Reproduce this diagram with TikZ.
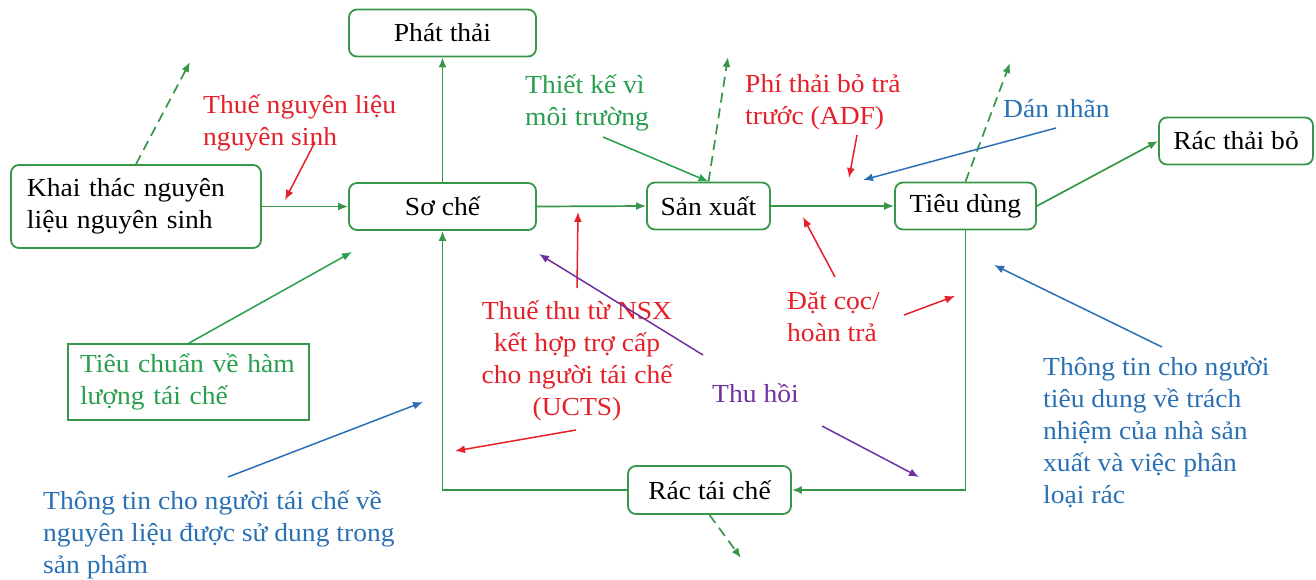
\documentclass[tikz,border=0pt]{standalone}
\usepackage{fontspec}
\setmainfont{Liberation Serif}[FakeStretch=1.06]
\usetikzlibrary{arrows.meta}

\definecolor{boxgreen}{RGB}{56,150,72}
\definecolor{lblgreen}{RGB}{40,158,78}
\definecolor{lblred}{RGB}{228,32,40}
\definecolor{lblblue}{RGB}{42,112,180}
\definecolor{lblpurple}{RGB}{112,48,160}

\begin{document}
\begin{tikzpicture}[x=1pt, y=-1pt,
  every node/.style={font=\fontsize{26}{32}\selectfont},
  stage/.style={draw=boxgreen, line width=1.8pt, rounded corners=8pt,
    fill=white, inner sep=0pt, text=black},
  tip/.style={-{Latex[length=10pt,width=8pt]}},
  flow/.style={tip, draw=boxgreen, line width=1.7pt},
  leak/.style={flow, dashed, dash pattern=on 10pt off 6pt},
  redarrow/.style={tip, draw=lblred, line width=1.5pt},
  bluearrow/.style={tip, draw=lblblue, line width=1.5pt},
  purplearrow/.style={tip, draw=lblpurple, line width=1.5pt},
  greenarrow/.style={tip, draw=lblgreen, line width=1.5pt},
  % multi-line labels are placed by the baseline of their last line
  lbl/.style={inner sep=0pt, anchor=base west, align=left},
]
\useasboundingbox (0,0) rectangle (1316,579);

% stages of the material chain
\node[stage, minimum width=187pt, minimum height=47pt] (phat) at (442.5,33) {Phát thải};
\node[stage, minimum width=250pt, minimum height=83pt, text width=218pt,
  inner xsep=16pt, align=left] (khai) at (136,206.5) {Khai thác nguyên\\liệu nguyên sinh};
\node[stage, minimum width=187pt, minimum height=47pt] (soche) at (442.5,206.5) {Sơ chế};
\node[stage, minimum width=123pt, minimum height=47pt] (sanxuat) at (708.5,206) {Sản xuất};
\node[stage, minimum width=141pt, minimum height=47pt] (tieudung) at (965.5,206) {Tiêu dùng};
\node[stage, minimum width=154pt, minimum height=47pt] (racthai) at (1236,141) {Rác thải bỏ};
\node[stage, minimum width=163pt, minimum height=48pt] (ractaiche) at (709.5,490) {Rác tái chế};
\node[draw=boxgreen, line width=1.2pt, minimum width=241pt, minimum height=76pt,
  text width=217pt, inner xsep=12pt, inner ysep=0pt, align=left, text=lblgreen]
  (tieuchuan) at (188.5,382) {Tiêu chuẩn về hàm\\lượng tái chế};

% policy labels
\node[lbl, text=lblred] (tnl) at (203,145) {Thuế nguyên liệu\\nguyên sinh};
\node[lbl, text=lblgreen] (tk) at (525,125) {Thiết kế vì\\môi trường};
\node[lbl, text=lblred] (adf) at (745,124) {Phí thải bỏ trả\\trước (ADF)};
\node[lbl, text=lblblue] (dan) at (1003,117) {Dán nhãn};
\node[inner sep=0pt, anchor=base, align=center, text=lblred] (ucts) at (577,415)
  {Thuế thu từ NSX\\kết hợp trợ cấp\\cho người tái chế\\(UCTS)};
\node[lbl, text=lblred] (datcoc) at (787,341) {Đặt cọc/\\hoàn trả};
\node[lbl, text=lblpurple] (thuhoi) at (712,402) {Thu hồi};
\node[lbl, text=lblblue] (ttntd) at (1043,503)
  {Thông tin cho người\\tiêu dung về trách\\nhiệm của nhà sản\\xuất và việc phân\\loại rác};
\node[lbl, text=lblblue] (ttntc) at (43,573)
  {Thông tin cho người tái chế về\\nguyên liệu được sử dung trong\\sản phẩm};

% material flows
\draw[flow] (khai.east |- soche) -- (soche.west);
\draw[flow] (soche.east) -- (sanxuat.west);
\draw[flow] (sanxuat.east) -- (tieudung.west);
\draw[flow] (soche.north) -- (phat.south);
\draw[flow] (tieudung.east) -- (racthai.west);
\draw[flow] (tieudung.south) |- (ractaiche.east);
\draw[flow] (ractaiche.west) -| (soche.south);

% leakage (dashed)
\coordinate (khaileak) at (190,62);
\coordinate (sxleak) at (728,57);
\coordinate (tdleak) at (1010,63);
\coordinate (rtcleak) at (741,558);
\draw[leak] (khai.north) -- (khaileak);
\draw[leak] (sanxuat.north) -- (sxleak);
\draw[leak] (tieudung.north) -- (tdleak);
\draw[leak] (ractaiche.south) -- (rtcleak);

% instrument arrows
\coordinate (tkfrom) at (603,137);
\draw[greenarrow] (tkfrom) -- (sanxuat.north);
\coordinate (tcto) at (352,252);
\draw[greenarrow] (tieuchuan.north) -- (tcto);

\coordinate (tnlfrom) at (315,142);
\coordinate (tnlto) at (285,200);
\draw[redarrow] (tnlfrom) -- (tnlto);

\coordinate (adffrom) at (857,135);
\coordinate (adfto) at (849,178);
\draw[redarrow] (adffrom) -- (adfto);

\coordinate (danfrom) at (1056,128);
\coordinate (danto) at (863,180);
\draw[bluearrow] (danfrom) -- (danto);

\coordinate (uctsup) at (577,288);
\coordinate (uctsupto) at (578,212);
\draw[redarrow] (uctsup) -- (uctsupto);
\coordinate (uctsdown) at (576,430);
\coordinate (uctsdownto) at (455,451);
\draw[redarrow] (uctsdown) -- (uctsdownto);

\coordinate (dcfrom) at (835,277);
\coordinate (dcto) at (803,217);
\draw[redarrow] (dcfrom) -- (dcto);
\coordinate (dcfrom2) at (904,315);
\coordinate (dcto2) at (955,296);
\draw[redarrow] (dcfrom2) -- (dcto2);

\coordinate (thfrom) at (703,355);
\coordinate (thto) at (539,254);
\draw[purplearrow] (thfrom) -- (thto);
\coordinate (thfrom2) at (822,426);
\coordinate (thto2) at (919,477);
\draw[purplearrow] (thfrom2) -- (thto2);

\coordinate (tdfrom) at (1162,347);
\coordinate (tdto) at (994,265);
\draw[bluearrow] (tdfrom) -- (tdto);
\coordinate (tcfrom) at (228,477);
\coordinate (tcto2) at (423,402);
\draw[bluearrow] (tcfrom) -- (tcto2);
\end{tikzpicture}
\end{document}
